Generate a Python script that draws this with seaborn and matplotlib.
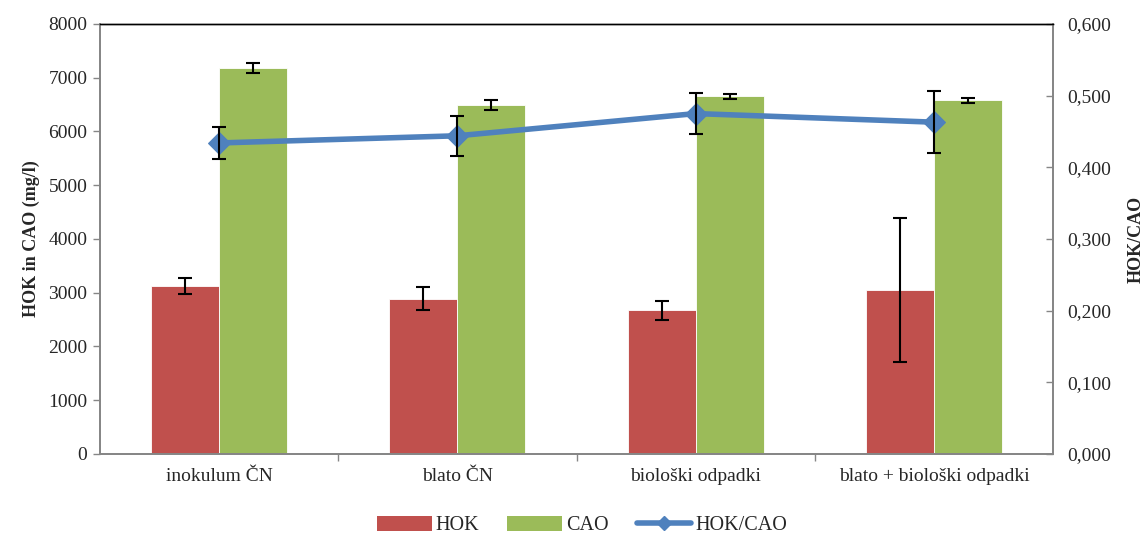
import numpy as np
import pandas as pd
import seaborn as sns
import matplotlib.pyplot as plt
from matplotlib.lines import Line2D
from matplotlib.patches import Patch
from matplotlib.ticker import FuncFormatter

categories = ['inokulum ČN', 'blato ČN', 'biološki odpadki', 'blato + biološki odpadki']
hok = [3120, 2890, 2670, 3045]
hok_err = [150, 215, 170, 1340]
cao = [7180, 6490, 6655, 6580]
cao_err = [85, 95, 50, 50]
ratio = [0.434, 0.444, 0.475, 0.463]
ratio_err = [0.0225, 0.028, 0.0285, 0.043]

red = '#C0504D'
green = '#9BBB59'
blue = '#4F81BD'
grey = '#868686'

sns.set_theme(style='white')
plt.rcParams['font.family'] = ['Liberation Serif', 'DejaVu Serif']

bars = pd.DataFrame({
    'kategorija': categories * 2,
    'serija': ['HOK'] * 4 + ['CAO'] * 4,
    'vrednost': hok + cao,
})
errs = hok_err + cao_err

fig = plt.figure(figsize=(11.48, 5.39), dpi=100)
ax = fig.add_axes([0.0871, 0.1577, 0.8302, 0.7978])

sns.barplot(data=bars, x='kategorija', y='vrednost', hue='serija',
            palette=[red, green], saturation=1, width=0.57, errorbar=None,
            edgecolor='white', linewidth=0.6, legend=False, ax=ax)

# error bars at bar centres
for patch, e in zip(ax.patches, errs):
    xc = patch.get_x() + patch.get_width() / 2
    ax.errorbar(xc, patch.get_height(), yerr=e, fmt='none', ecolor='black',
                elinewidth=1.5, capsize=5, capthick=1.5, zorder=5)

ax.set_ylim(0, 8000)
ax.set_xlim(-0.5, 3.5)
ax.set_yticks(np.arange(0, 8001, 1000))
ax.set_xlabel('')
ax.set_ylabel('HOK in CAO (mg/l)', fontsize=13, fontweight='bold', labelpad=6)
ax.tick_params(axis='y', direction='out', length=5, width=1, color=grey,
               labelsize=14, pad=4, left=True)
ax.tick_params(axis='x', which='major', length=0, labelsize=14, pad=10)
ax.set_xticks([0.5, 1.5, 2.5], minor=True)
ax.tick_params(axis='x', which='minor', direction='out', length=5, width=1,
               color=grey, bottom=True)

ax2 = ax.twinx()
line_df = pd.DataFrame({'x': np.arange(len(categories)), 'ratio': ratio})
sns.lineplot(data=line_df, x='x', y='ratio', color=blue, linewidth=4,
             marker='D', markersize=11, markeredgecolor=blue, sort=False,
             ax=ax2)
ax2.errorbar(line_df['x'], ratio, yerr=ratio_err, fmt='none', ecolor='black',
             elinewidth=1.5, capsize=5, capthick=1.5, zorder=6)
ax2.set_ylim(0, 0.6)
ax2.set_xlim(-0.5, 3.5)
ax2.set_yticks(np.arange(0, 0.601, 0.1))
ax2.yaxis.set_major_formatter(FuncFormatter(lambda v, p: f'{v:.3f}'.replace('.', ',')))
ax2.set_ylabel('HOK/CAO', fontsize=13, fontweight='bold', labelpad=12)
ax2.tick_params(axis='y', direction='in', length=5, width=1, color=grey,
                labelsize=14, pad=10, right=True)

for a in (ax, ax2):
    for side in ('left', 'right', 'bottom'):
        a.spines[side].set_color(grey)
        a.spines[side].set_linewidth(1.3)
    a.spines['top'].set_color('black')
    a.spines['top'].set_linewidth(1)

handles = [
    Patch(facecolor=red, edgecolor='none', label='HOK'),
    Patch(facecolor=green, edgecolor='none', label='CAO'),
    Line2D([0], [0], color=blue, linewidth=4, marker='D', markersize=7, label='HOK/CAO'),
]
fig.legend(handles=handles, loc='center', bbox_to_anchor=(0.507, 0.025), ncol=3,
           frameon=False, fontsize=14.5, handlelength=2.7, handleheight=0.8,
           columnspacing=1.4, handletextpad=0.2)

fig.savefig('out.png', dpi=100)
